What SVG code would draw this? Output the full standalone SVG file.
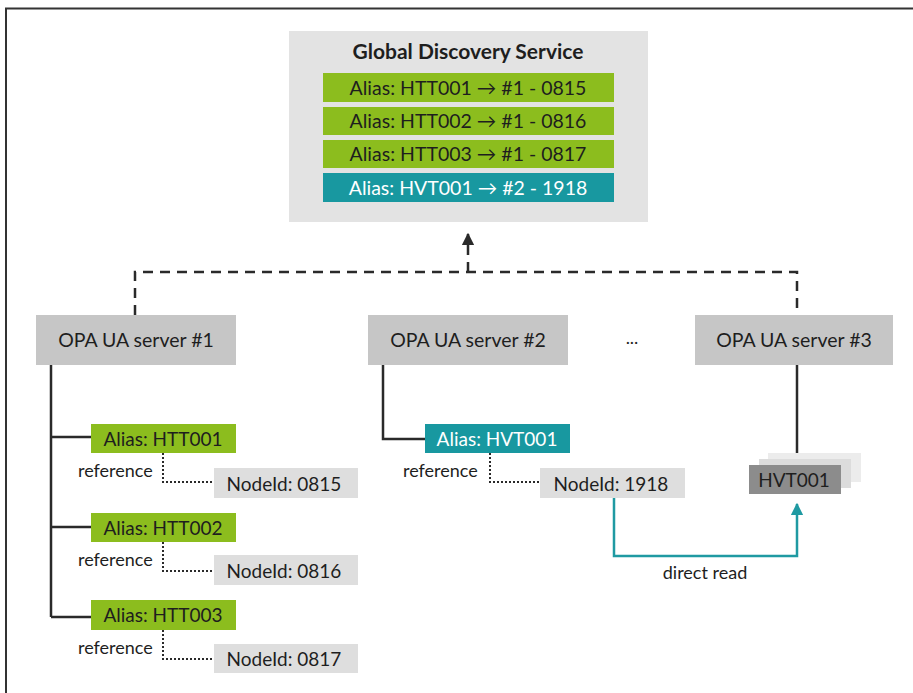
<svg xmlns="http://www.w3.org/2000/svg" width="913" height="693" viewBox="0 0 913 693">
<defs>
<style>
text{font-family:Lato,"Open Sans","Liberation Sans",sans-serif;fill:#1e1e1e}
.bar{font-size:19.5px}
.srvt{font-size:19.5px}
.al{font-size:19px}
.nt{font-size:19px}
.ref{font-size:18px}
.w{fill:#ffffff}
.green{fill:#8cbd1e}
.teal{fill:#1898a0}
.srv{fill:#c6c6c6}
.nid{fill:#dedede}
.line{stroke:#2a2a2a;stroke-width:2.5;fill:none}
.dash{stroke:#2a2a2a;stroke-width:2.5;fill:none;stroke-dasharray:10 7}
.dot{stroke:#2a2a2a;stroke-width:2;fill:none;stroke-dasharray:2 2}
.tl{stroke:#1f9aa2;stroke-width:2.5;fill:none}
</style>
<marker id="ab" viewBox="0 0 10 10" refX="9" refY="5" markerWidth="5" markerHeight="5" orient="auto"><path d="M0,0 L10,5 L0,10 Z" fill="#2a2a2a"/></marker>
<marker id="at" viewBox="0 0 10 10" refX="9" refY="5" markerWidth="5" markerHeight="5" orient="auto"><path d="M0,0 L10,5 L0,10 Z" fill="#1f9aa2"/></marker>
</defs>
<rect width="913" height="693" fill="#ffffff"/>
<path d="M6,693 V8.5 H913" stroke="#333" stroke-width="2" fill="none"/>

<g id="connectors">
<path class="dash" d="M135,315 V272 H797 V315"/>
<path class="dash" d="M468,272 V234" marker-end="url(#ab)"/>
<path class="line" d="M51,365 V617 M51,437 H91 M51,527 H91 M51,617 H91"/>
<path class="line" d="M383,365 V439 H425"/>
<path class="line" d="M797,365 V453"/>
<path class="dot" d="M163,453 V482 H212 M163,542 V571 H212 M163,630 V659 H212"/>
<path class="dot" d="M490,453 V482 H540"/>
<path class="tl" d="M614,498 V556 H797 V504" marker-end="url(#at)"/>
<text class="ref" x="705" y="579" text-anchor="middle" font-size="18.5">direct read</text>
</g>

<g id="gds">
<rect x="289" y="31" width="359" height="191" fill="#e3e3e3"/>
<text x="468" y="59" text-anchor="middle" font-size="21" font-weight="bold">Global Discovery Service</text>
<rect class="green" x="323" y="73" width="291" height="29"/>
<text class="bar" x="468" y="94.5" text-anchor="middle">Alias: HTT001 → #1 - 0815</text>
<rect class="green" x="323" y="107" width="291" height="28"/>
<text class="bar" x="468" y="128" text-anchor="middle">Alias: HTT002 → #1 - 0816</text>
<rect class="green" x="323" y="140" width="291" height="28"/>
<text class="bar" x="468" y="161" text-anchor="middle">Alias: HTT003 → #1 - 0817</text>
<rect class="teal" x="323" y="173" width="291" height="29"/>
<text class="bar w" x="468" y="194.5" text-anchor="middle">Alias: HVT001 → #2 - 1918</text>
</g>

<g id="server1">
<rect class="srv" x="36" y="315" width="200" height="50"/>
<text class="srvt" x="136" y="347" text-anchor="middle">OPA UA server #1</text>
</g>
<g id="server2">
<rect class="srv" x="368" y="315" width="200" height="50"/>
<text class="srvt" x="468" y="347" text-anchor="middle">OPA UA server #2</text>
</g>
<g id="ellipsis">
<text class="ref" x="632" y="344" text-anchor="middle">...</text>
</g>
<g id="server3">
<rect class="srv" x="695" y="315" width="198" height="50"/>
<text class="srvt" x="794" y="347" text-anchor="middle">OPA UA server #3</text>
</g>

<g id="alias-htt001">
<rect class="green" x="91" y="424" width="145" height="29"/>
<text class="al" x="163" y="445.5" text-anchor="middle">Alias: HTT001</text>
<text class="ref" x="78" y="477">reference</text>
</g>
<g id="nodeid-0815">
<rect class="nid" x="214" y="468" width="144" height="30"/>
<text class="nt" x="284" y="490.5" text-anchor="middle">NodeId: 0815</text>
</g>
<g id="alias-htt002">
<rect class="green" x="91" y="513" width="145" height="29"/>
<text class="al" x="163" y="534.5" text-anchor="middle">Alias: HTT002</text>
<text class="ref" x="78" y="566">reference</text>
</g>
<g id="nodeid-0816">
<rect class="nid" x="214" y="555" width="144" height="30"/>
<text class="nt" x="284" y="577.5" text-anchor="middle">NodeId: 0816</text>
</g>
<g id="alias-htt003">
<rect class="green" x="91" y="600" width="145" height="30"/>
<text class="al" x="163" y="621.5" text-anchor="middle">Alias: HTT003</text>
<text class="ref" x="78" y="654">reference</text>
</g>
<g id="nodeid-0817">
<rect class="nid" x="214" y="644" width="144" height="29"/>
<text class="nt" x="284" y="666" text-anchor="middle">NodeId: 0817</text>
</g>

<g id="alias-hvt001">
<rect class="teal" x="425" y="424" width="145" height="29"/>
<text class="al w" x="497" y="445.5" text-anchor="middle">Alias: HVT001</text>
<text class="ref" x="403" y="477">reference</text>
</g>
<g id="nodeid-1918">
<rect class="nid" x="540" y="468" width="145" height="30"/>
<text class="nt" x="611" y="490.5" text-anchor="middle">NodeId: 1918</text>
</g>

<g id="hvt001">
<rect x="768" y="453" width="93" height="29" fill="#ececec"/>
<rect x="759" y="459" width="92" height="29" fill="#dcdcdc"/>
<rect x="749" y="465" width="92" height="29" fill="#8c8c8c"/>
<text class="nt" x="794" y="487" text-anchor="middle" font-size="18.5">HVT001</text>
</g>
</svg>
